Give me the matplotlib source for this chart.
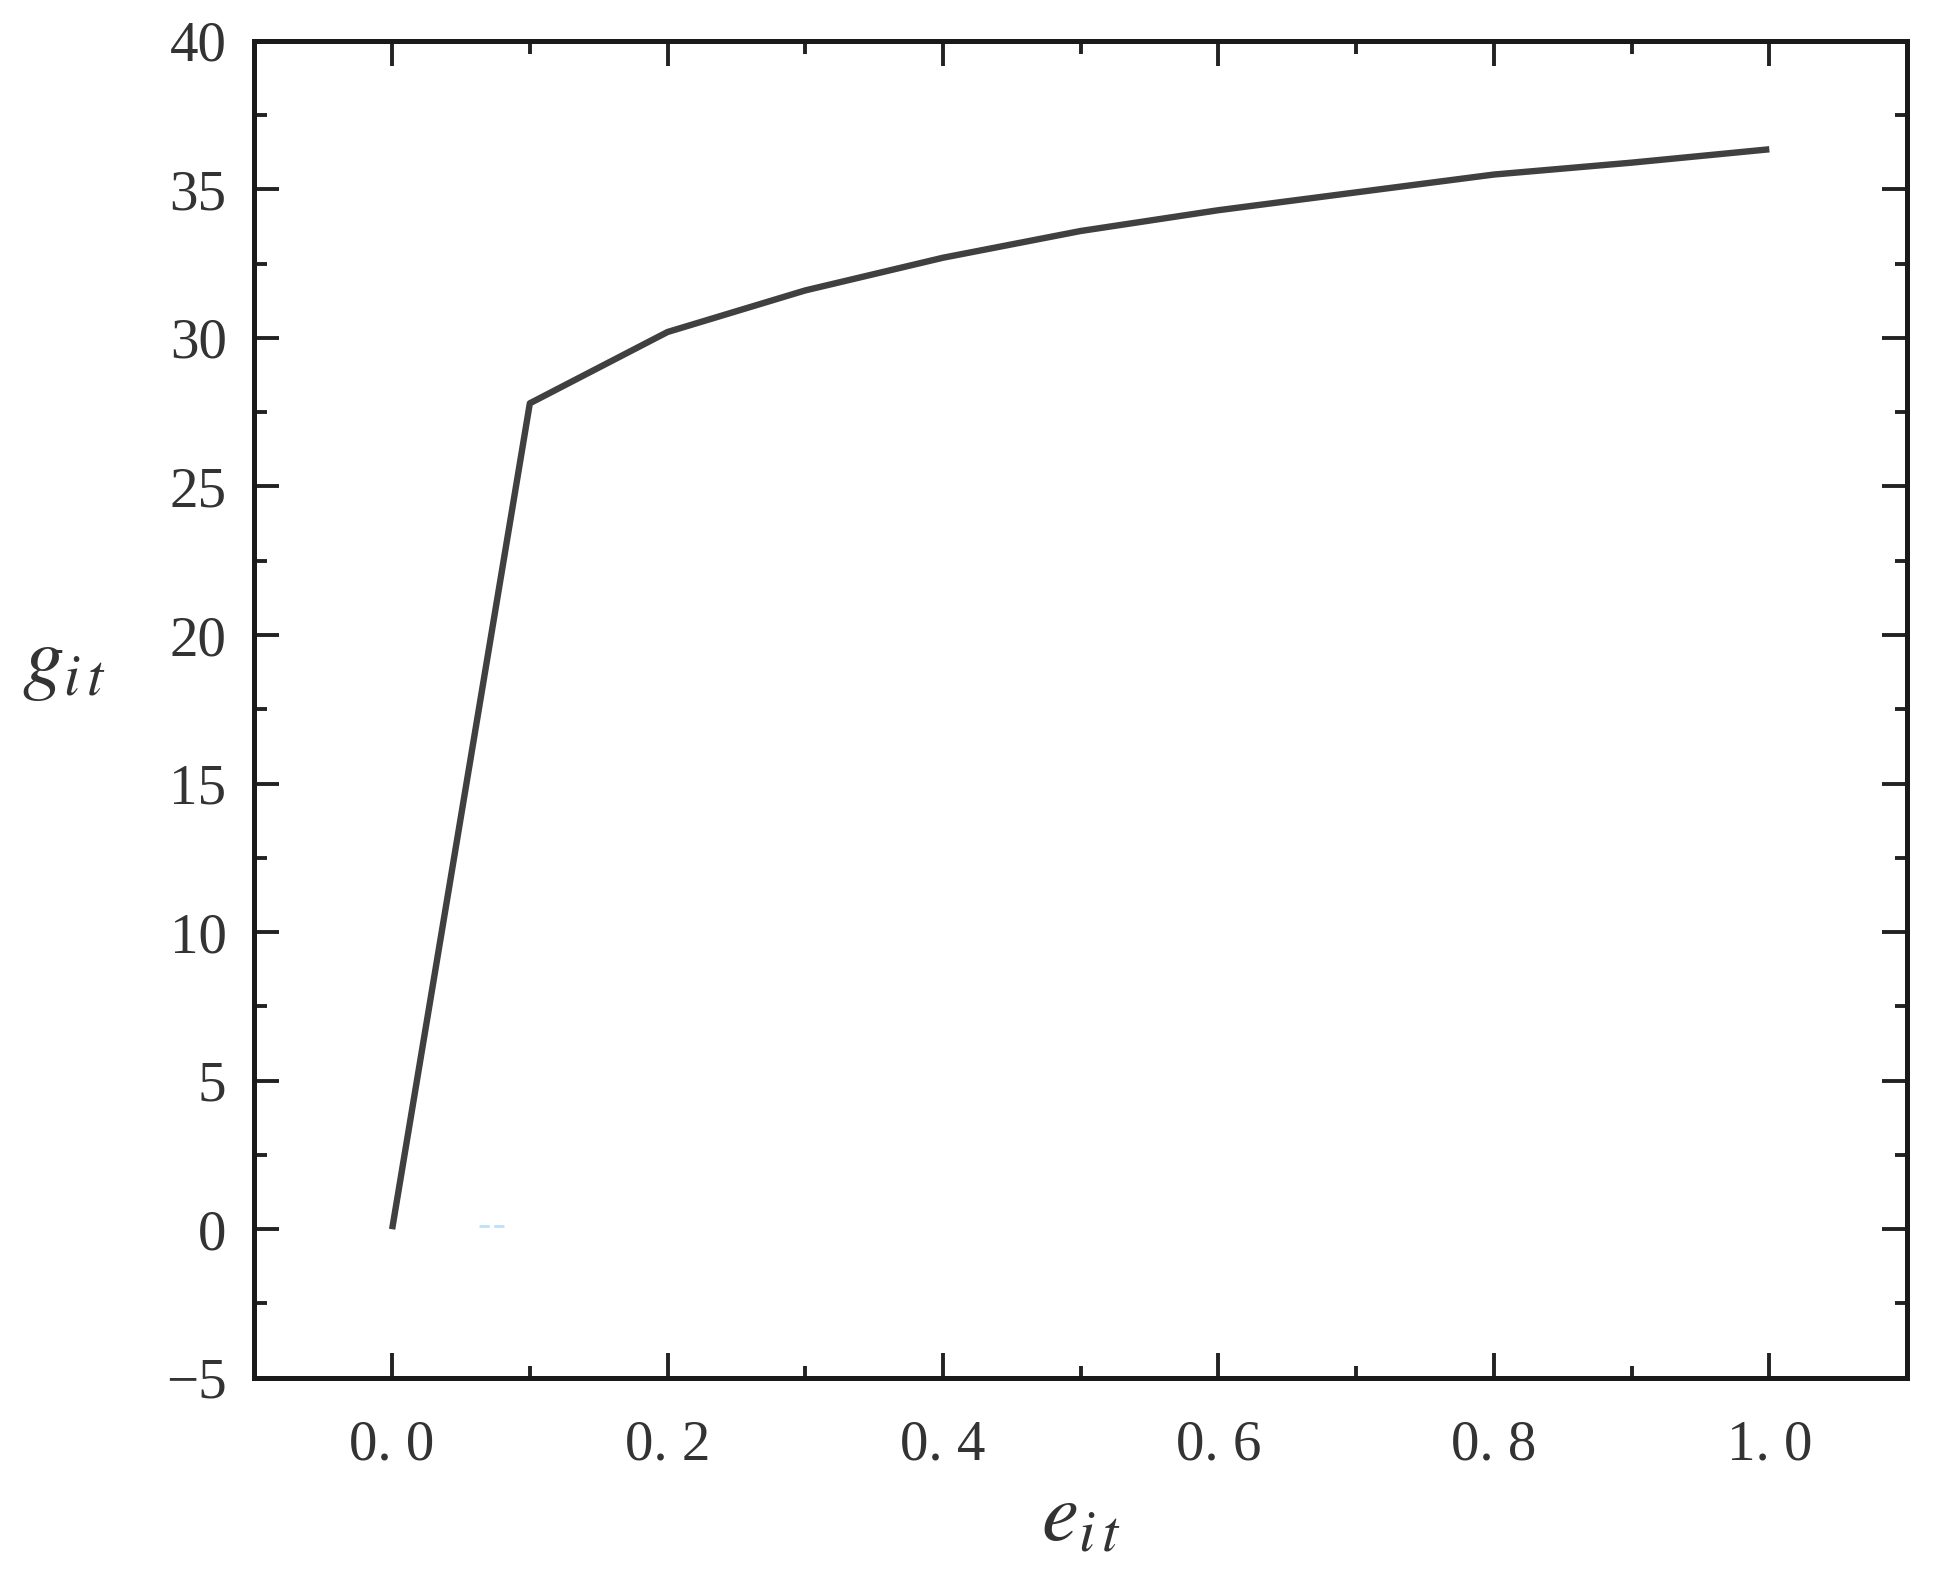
import numpy as np
import matplotlib
matplotlib.use("Agg")
import matplotlib.pyplot as plt

# data
e_it = [0.0, 0.1, 0.2, 0.3, 0.4, 0.5, 0.6, 0.7, 0.8, 0.9, 1.0]
g_it = [0.0, 27.8, 30.2, 31.6, 32.7, 33.6, 34.3, 34.9, 35.5, 35.9, 36.35]

# small light-blue dashed artefact near the origin
artefact_x = [0.063, 0.083]
artefact_y = [0.1, 0.1]

xTicks = [0.0, 0.2, 0.4, 0.6, 0.8, 1.0]
yTicks = [-5, 0, 5, 10, 15, 20, 25, 30, 35, 40]

plt.rcParams['font.family'] = ['Liberation Serif', 'DejaVu Serif']
plt.rcParams['mathtext.fontset'] = 'stix'

fig1 = plt.figure(figsize=(9.71, 7.855), dpi=200)
ax1 = fig1.add_subplot(111)
fig1.subplots_adjust(left=0.131, right=0.982, top=0.974, bottom=0.123)

ax1.plot(e_it, g_it, color='#404040', linewidth=2.3, solid_capstyle='butt')
ax1.plot(artefact_x, artefact_y, '--', color='#bfe0f5', linewidth=1.0)

ax1.set_xlim(-0.1, 1.1)
ax1.set_ylim(-5, 40)

ax1.set_xticks(xTicks)
ax1.set_yticks(yTicks)
ax1.xaxis.set_minor_locator(plt.MultipleLocator(0.1))
ax1.yaxis.set_minor_locator(plt.MultipleLocator(2.5))
ax1.xaxis.set_major_formatter(plt.FuncFormatter(lambda v, p: ('%.1f' % v).replace('.', '. ')))
ax1.yaxis.set_major_formatter(plt.FuncFormatter(lambda v, p: '%d' % v if v >= 0 else '\u2212%d' % -v))

ax1.yaxis.set_ticks_position('both')
ax1.xaxis.set_ticks_position('both')
ax1.tick_params(which='major', direction='in', length=9, width=1.4, color='#222222', labelsize=20.5, labelcolor='#333333')
ax1.tick_params(which='minor', direction='in', length=4.5, width=1.4, color='#222222')
ax1.tick_params(axis='x', which='major', pad=15)
ax1.tick_params(axis='y', which='major', pad=10)

for s in ax1.spines.values():
    s.set_linewidth(1.8)
    s.set_color('#1a1a1a')

ax1.set_xlabel(r'$e_{i\,t}$', fontsize=30, labelpad=4, color='#333333')
ax1.set_ylabel(r'$g_{i\,t}$', fontsize=30, rotation=0, color='#333333')
ax1.yaxis.set_label_coords(-0.115, 0.505)

plt.savefig('out.png')
